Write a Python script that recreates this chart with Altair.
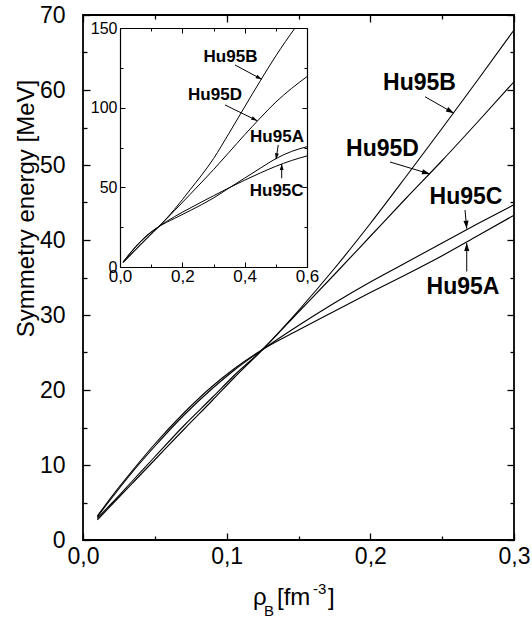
import math
import altair as alt
import pandas as pd

FONT = "Liberation Sans"

# main plot area (pixels) and its data ranges
W, H = 431, 525
X_MAX, Y_MAX = 0.3, 70.0

# inset box, in pixels inside the main plot area, and its data ranges
IN_L, IN_R, IN_T, IN_B = 37, 224, 13, 252
IX_MAX, IY_MAX = 0.6, 150.0

series = ["Hu95A", "Hu95B", "Hu95C", "Hu95D"]

# main panel: baryon density [fm^-3] vs symmetry energy [MeV]
rho_main = [0.01, 0.02, 0.035, 0.05, 0.07, 0.09, 0.105, 0.125, 0.15, 0.175, 0.2, 0.225, 0.25, 0.275, 0.3]
esym_main_A = [3.2, 5.8, 9.4, 12.8, 16.9, 20.5, 22.8, 25.4, 28.0, 30.5, 33.0, 35.4, 37.9, 40.6, 43.3]
esym_main_B = [2.7, 4.7, 7.7, 10.7, 14.7, 18.6, 21.6, 25.4, 30.6, 36.2, 42.2, 48.5, 54.9, 61.4, 68.0]
esym_main_C = [3.1, 5.6, 9.2, 12.5, 16.6, 20.2, 22.6, 25.4, 28.6, 31.6, 34.4, 37.0, 39.6, 42.2, 44.7]
esym_main_D = [2.9, 4.9, 8.0, 11.1, 15.2, 19.0, 21.9, 25.4, 30.4, 35.4, 40.5, 45.6, 50.6, 55.8, 61.1]

# inset: the same models up to twice the density
rho_inset = [0.01, 0.05, 0.09, 0.125, 0.175, 0.225, 0.3, 0.35, 0.4, 0.45, 0.5, 0.55, 0.6]
esym_inset_A = [3.2, 12.8, 20.5, 25.4, 30.5, 35.4, 43.3, 49.6, 55.8, 62.0, 68.0, 72.5, 75.5]
esym_inset_C = [3.1, 12.5, 20.2, 25.4, 31.6, 37.0, 44.7, 49.7, 54.5, 59.0, 63.2, 66.8, 69.7]
esym_inset_D = [2.9, 11.1, 19.0, 25.4, 35.4, 45.6, 61.1, 72.0, 83.0, 93.5, 103.5, 112.0, 119.5]
rho_inset_B = [0.01, 0.05, 0.09, 0.125, 0.175, 0.225, 0.3, 0.35, 0.4, 0.45, 0.5, 0.5615]
esym_inset_B = [2.7, 10.7, 18.6, 25.4, 36.2, 48.5, 68.0, 84.0, 100.5, 116.8, 132.5, 150.0]

# curve labels and their arrows (order A, B, C, D), in data units
main_label_x = [0.2645, 0.2342, 0.2666, 0.2085]
main_label_y = [33.8, 60.9, 45.8, 52.1]
main_tail_x = [0.2671, 0.2381, 0.2659, 0.2137]
main_tail_y = [35.8, 59.1, 44.0, 50.4]
main_tip_x = [0.2671, 0.2582, 0.2671, 0.2415]
main_tip_y = [39.6, 56.9, 41.5, 48.8]

inset_label_x = [0.5037, 0.3545, 0.5027, 0.3048]
inset_label_y = [81.8, 132.0, 47.7, 108.0]
inset_tail_x = [0.5079, 0.369, 0.5188, 0.3369]
inset_tail_y = [76.6, 126.8, 55.7, 101.7]
inset_tip_x = [0.5005, 0.4547, 0.5188, 0.4405]
inset_tip_y = [67.6, 117.8, 64.6, 91.8]

# axis ticks
main_x_major = [0.0, 0.1, 0.2, 0.3]
main_x_minor = [0.05, 0.15, 0.25]
main_y_major = [0, 10, 20, 30, 40, 50, 60, 70]
main_y_minor = [5, 15, 25, 35, 45, 55, 65]
inset_x_major = [0.0, 0.2, 0.4, 0.6]
inset_x_minor = [0.1, 0.3, 0.5]
inset_y_major = [0, 50, 100, 150]
inset_y_minor = [25, 75, 125]

ARROW_HEAD = "M0,0L0.32,1L-0.32,1Z"


def long_frame(pairs):
    rows = []
    for name, xs, ys in pairs:
        rows += [{"series": name, "rho": x, "esym": y} for x, y in zip(xs, ys)]
    return pd.DataFrame(rows)


main_df = long_frame([
    ("Hu95A", rho_main, esym_main_A),
    ("Hu95B", rho_main, esym_main_B),
    ("Hu95C", rho_main, esym_main_C),
    ("Hu95D", rho_main, esym_main_D),
])
inset_df = long_frame([
    ("Hu95A", rho_inset, esym_inset_A),
    ("Hu95B", rho_inset_B, esym_inset_B),
    ("Hu95C", rho_inset, esym_inset_C),
    ("Hu95D", rho_inset, esym_inset_D),
])


def main_px(x, y):
    return x / X_MAX * W, H - y / Y_MAX * H


def inset_px(x, y):
    return IN_L + x / IX_MAX * (IN_R - IN_L), IN_B - y / IY_MAX * (IN_B - IN_T)


def heading(p0, p1):
    dx, dy = p1[0] - p0[0], p1[1] - p0[1]
    return math.degrees(math.atan2(dx, -dy)) % 360


def annotation_frame(lx, ly, tx, ty, hx, hy, to_px):
    return pd.DataFrame({
        "series": series, "lx": lx, "ly": ly, "tx": tx, "ty": ty, "hx": hx, "hy": hy,
        "angle": [heading(to_px(a, b), to_px(c, d)) for a, b, c, d in zip(tx, ty, hx, hy)],
    })


main_ann = annotation_frame(main_label_x, main_label_y, main_tail_x, main_tail_y,
                            main_tip_x, main_tip_y, main_px)
inset_ann = annotation_frame(inset_label_x, inset_label_y, inset_tail_x, inset_tail_y,
                             inset_tip_x, inset_tip_y, inset_px)

comma = "replace(datum.label, '.', ',')"


def tick_axis(orient, offset, values, size, width=1.3, domain=False):
    return alt.Axis(orient=orient, offset=offset, values=values, labels=False, ticks=True,
                    tickSize=size, tickWidth=width, domain=domain, domainWidth=1.2,
                    grid=False, title=None)


def tick_layer(df, xs, ys, xaxis, yaxis):
    return alt.Chart(df).mark_point(opacity=0, size=1).encode(
        x=alt.X("rho:Q", scale=xs, axis=xaxis),
        y=alt.Y("esym:Q", scale=ys, axis=yaxis),
    )


def annotation_layers(ann, xs, ys, font_size, head_size):
    text = alt.Chart(ann).mark_text(font=FONT, fontSize=font_size, fontWeight="bold",
                                    color="black", align="center", baseline="middle").encode(
        x=alt.X("lx:Q", scale=xs, axis=None), y=alt.Y("ly:Q", scale=ys, axis=None),
        text="series:N")
    shafts = alt.Chart(ann).mark_rule(color="black", strokeWidth=1).encode(
        x=alt.X("tx:Q", scale=xs, axis=None), y=alt.Y("ty:Q", scale=ys, axis=None),
        x2="hx:Q", y2="hy:Q")
    heads = alt.Chart(ann).mark_point(shape=ARROW_HEAD, filled=True, color="black",
                                      opacity=1, size=head_size, strokeWidth=0).encode(
        x=alt.X("hx:Q", scale=xs, axis=None), y=alt.Y("hy:Q", scale=ys, axis=None),
        angle=alt.Angle("angle:Q", scale=None))
    return [text, shafts, heads]


# ---------------- main panel ----------------
xs_main = alt.Scale(domain=[0, X_MAX], nice=False, zero=False)
ys_main = alt.Scale(domain=[0, Y_MAX], nice=False, zero=False)

main_lines = alt.Chart(main_df).mark_line(color="black", strokeWidth=1.1,
                                          interpolate="monotone").encode(
    x=alt.X("rho:Q", scale=xs_main, axis=alt.Axis(
        orient="bottom", values=main_x_major, format=".1f", labelExpr=comma,
        ticks=False, domain=False, grid=False, labelFontSize=23, labelPadding=5,
        labelFlush=False, labelOverlap=False, title=None)),
    y=alt.Y("esym:Q", scale=ys_main, axis=alt.Axis(
        orient="left", values=main_y_major, ticks=False, domain=False, grid=False,
        labelFontSize=23, labelPadding=18, labelOverlap=False,
        title="Symmetry energy [MeV]", titleFontSize=24, titleFontWeight="normal",
        titleAngle=270, titleX=-57, titleY=193, titleAlign="center",
        titleBaseline="middle")),
    detail="series:N",
)

main_group = alt.layer(
    main_lines,
    tick_layer(main_df, xs_main, ys_main, tick_axis("top", -H, main_x_major, 7),
               tick_axis("right", -W, main_y_major, 7)),
    tick_layer(main_df, xs_main, ys_main, tick_axis("top", -H, main_x_minor, 4),
               tick_axis("right", -W, main_y_minor, 4)),
    tick_layer(main_df, xs_main, ys_main, tick_axis("bottom", -H, main_x_major, 7),
               tick_axis("left", -W, main_y_major, 7)),
    tick_layer(main_df, xs_main, ys_main, tick_axis("bottom", -H, main_x_minor, 4),
               tick_axis("left", -W, main_y_minor, 4)),
    *annotation_layers(main_ann, xs_main, ys_main, 23, 256),
).resolve_axis(x="independent", y="independent")

# ---------------- inset ----------------
xs_in = alt.Scale(domain=[0, IX_MAX], range=[IN_L, IN_R], nice=False, zero=False)
ys_in = alt.Scale(domain=[0, IY_MAX], range=[IN_B, IN_T], nice=False, zero=False)

inset_lines = alt.Chart(inset_df).mark_line(color="black", strokeWidth=1,
                                            interpolate="monotone").encode(
    x=alt.X("rho:Q", scale=xs_in, axis=alt.Axis(
        orient="bottom", offset=IN_B - H, values=inset_x_major, format=".1f",
        labelExpr=comma, ticks=False, domain=True, domainWidth=1.2, grid=False,
        labelFontSize=17, labelPadding=1, labelFlush=False, labelOverlap=False,
        title=None)),
    y=alt.Y("esym:Q", scale=ys_in, axis=alt.Axis(
        orient="left", offset=-IN_L, values=inset_y_major, ticks=False, domain=True,
        domainWidth=1.2, grid=False, labelFontSize=16, labelPadding=3,
        labelOverlap=False, title=None)),
    detail="series:N",
)

inset_group = alt.layer(
    inset_lines,
    tick_layer(inset_df, xs_in, ys_in, tick_axis("top", -IN_B, inset_x_major, 5, 1),
               tick_axis("right", IN_L - W, inset_y_major, 5, 1)),
    tick_layer(inset_df, xs_in, ys_in, tick_axis("top", -IN_B, inset_x_minor, 3, 1),
               tick_axis("right", IN_L - W, inset_y_minor, 3, 1)),
    tick_layer(inset_df, xs_in, ys_in,
               tick_axis("bottom", IN_T - H, inset_x_major, 5, 1, domain=True),
               tick_axis("left", -IN_R, inset_y_major, 5, 1, domain=True)),
    tick_layer(inset_df, xs_in, ys_in, tick_axis("bottom", IN_T - H, inset_x_minor, 3, 1),
               tick_axis("left", -IN_R, inset_y_minor, 3, 1)),
    *annotation_layers(inset_ann, xs_in, ys_in, 17, 144),
).resolve_axis(x="independent", y="independent")


# ---------------- x-axis title: rho_B [fm^-3] ----------------
def title_piece(text, x, y, size):
    return alt.Chart(pd.DataFrame({"t": [text]})).mark_text(
        font=FONT, fontSize=size, color="black", align="left", baseline="alphabetic"
    ).encode(text="t:N", x=alt.value(x), y=alt.value(y))


x_title = [
    title_piece("ρ", 170, 590, 24),
    title_piece("B", 181, 601, 15),
    title_piece("[fm", 194, 590, 24),
    title_piece("-3", 230, 579, 15),
    title_piece("]", 245, 590, 24),
]

chart = alt.layer(main_group, inset_group, *x_title).resolve_scale(
    x="independent", y="independent"
).properties(
    width=W, height=H,
    autosize=alt.AutoSizeParams(type="none"),
    padding={"left": 83, "top": 15, "right": 18, "bottom": 80},
).configure_axis(
    labelFont=FONT, titleFont=FONT, labelColor="black", titleColor="black",
    tickColor="black", domainColor="black", grid=False,
).configure_view(stroke="black", strokeWidth=1.8)

chart.save("out.html", embed_options={"renderer": "svg", "actions": False})
